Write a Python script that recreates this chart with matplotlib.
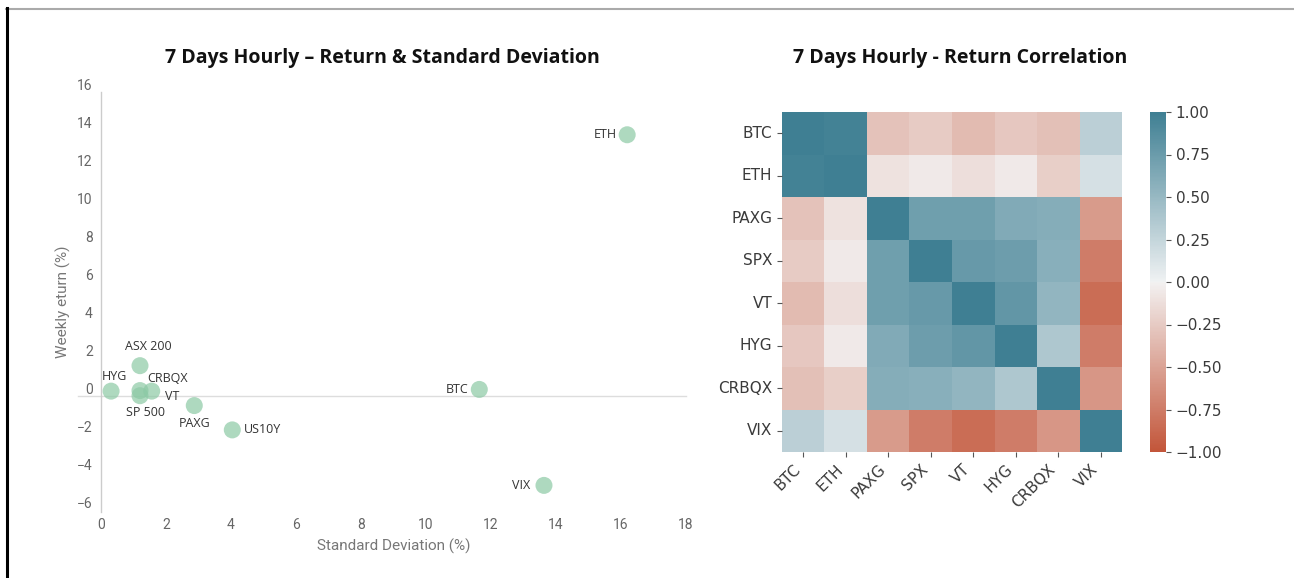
import matplotlib
matplotlib.use("Agg")
import matplotlib.pyplot as plt
import matplotlib.transforms as mtransforms
from matplotlib.lines import Line2D
import numpy as np
import seaborn as sns

# ---------------- data ----------------
assets = ["ETH", "BTC", "VIX", "US10Y", "PAXG", "SP 500", "ASX 200", "HYG", "CRBQX", "VT"]
std_dev = [16.19, 11.64, 13.63, 4.04, 2.87, 1.20, 1.20, 0.31, 1.20, 1.56]
weekly_return = [13.75, 0.35, -4.70, -1.78, -0.50, 0.02, 1.60, 0.26, 0.29, 0.26]

corr_labels = ["BTC", "ETH", "PAXG", "SPX", "VT", "HYG", "CRBQX", "VIX"]
corr_values = [
    [1.00, 0.97, -0.30, -0.25, -0.35, -0.27, -0.32, 0.30],
    [0.97, 1.00, -0.10, -0.05, -0.12, -0.05, -0.22, 0.15],
    [-0.30, -0.10, 1.00, 0.72, 0.72, 0.62, 0.60, -0.55],
    [-0.25, -0.05, 0.72, 1.00, 0.77, 0.74, 0.58, -0.75],
    [-0.35, -0.12, 0.72, 0.77, 1.00, 0.80, 0.53, -0.85],
    [-0.27, -0.05, 0.62, 0.74, 0.80, 1.00, 0.37, -0.75],
    [-0.32, -0.22, 0.60, 0.58, 0.53, 0.37, 1.00, -0.58],
    [0.30, 0.15, -0.55, -0.75, -0.85, -0.75, -0.58, 1.00],
]
cbar_ticks = [-1.0, -0.75, -0.5, -0.25, 0.0, 0.25, 0.5, 0.75, 1.0]
x_ticks = list(range(0, 20, 2))
y_ticks = list(range(-6, 18, 2))

# label placement (pixel offsets, alignment)
label_pos = {
    "ETH": (-10, 0, "right"),
    "BTC": (-11, 0, "right"),
    "VIX": (-14, 0, "right"),
    "US10Y": (12, 0, "left"),
    "PAXG": (0, -18, "center"),
    "SP 500": (5, -17, "center"),
    "ASX 200": (8, 19, "center"),
    "HYG": (3, 15, "center"),
    "CRBQX": (28, 12, "center"),
    "VT": (13, -5, "left"),
}

W, H = 1294, 578
fig = plt.figure(figsize=(W / 100, H / 100), dpi=100)
fig.patch.set_facecolor("white")

def fx(px):
    return px / W

def fy(py):
    return 1 - py / H

# ---------------- scatter ----------------
ax1 = fig.add_axes([fx(101), fy(512), fx(686) - fx(101), fy(92) - fy(512)])
ax1.set_xlim(0, 18)
ax1.set_ylim(-6.1, 16)
ax1.axhline(0, xmin=-0.04, xmax=1.0, color="#dddddd", lw=1, zorder=1, clip_on=False)
ax1.scatter(std_dev, weekly_return, s=150, color="#8cc9a5", alpha=0.7,
            edgecolors="none", zorder=3)
for name, xv, yv in zip(assets, std_dev, weekly_return):
    dx, dy, ha = label_pos[name]
    ax1.annotate(name, (xv, yv), xytext=(dx, dy), textcoords="offset pixels",
                 ha=ha, va="center", fontsize=9, family="Open Sans", color="#333333",
                 zorder=4)

for s in ["top", "right", "bottom"]:
    ax1.spines[s].set_visible(False)
ax1.spines["left"].set_color("#cccccc")
ax1.spines["left"].set_linewidth(1)
ax1.set_xticks(x_ticks)
ax1.set_yticks(y_ticks)
ax1.tick_params(axis="both", length=0, labelsize=10, labelcolor="#666666")
ax1.tick_params(axis="x", pad=4)
ax1.tick_params(axis="y", pad=6)
for lab in ax1.get_xticklabels() + ax1.get_yticklabels():
    lab.set_family("Roboto")
offset = mtransforms.ScaledTranslation(0, 8 / 100, fig.dpi_scale_trans)
for lab in ax1.get_yticklabels():
    lab.set_transform(lab.get_transform() + offset)
ax1.set_xlabel("Standard Deviation (%)", fontsize=11, family="Roboto", color="#777777",
               labelpad=5)
ax1.set_ylabel("Weekly eturn (%)", fontsize=11, family="Roboto", color="#777777",
               labelpad=4)

fig.text(fx(382), fy(58), "7 Days Hourly \u2013 Return & Standard Deviation",
         ha="center", va="center", fontsize=14, fontweight="bold", family="Open Sans",
         color="#111111")

# ---------------- heatmap ----------------
ax2 = fig.add_axes([fx(782), fy(452), fx(1122) - fx(782), fy(112) - fy(452)])
cax = fig.add_axes([fx(1150), fy(452), fx(1166) - fx(1150), fy(112) - fy(452)])
cmap = sns.diverging_palette(20, 220, as_cmap=True)
sns.heatmap(np.array(corr_values), ax=ax2, cbar_ax=cax, cmap=cmap, vmin=-1, vmax=1,
            xticklabels=corr_labels, yticklabels=corr_labels,
            cbar_kws={"ticks": cbar_ticks})
ax2.set_xticklabels(corr_labels, rotation=45, ha="right", fontsize=11, color="#3a3a3a")
ax2.set_yticklabels(corr_labels, rotation=0, fontsize=11, color="#3a3a3a")
ax2.tick_params(axis="both", color="#555555")
cax.set_yticks(cbar_ticks)
cax.set_yticklabels([f"{t:.2f}".replace("-", "\u2212") for t in cbar_ticks])
cax.tick_params(labelsize=11, labelcolor="#3a3a3a", color="#555555")

fig.text(fx(960), fy(58), "7 Days Hourly - Return Correlation",
         ha="center", va="center", fontsize=14, fontweight="bold", family="Open Sans",
         color="#111111")

# ---------------- frame lines ----------------
fig.add_artist(Line2D([fx(6), 1], [fy(8.5), fy(8.5)], color="#aaaaaa", lw=1.5))
fig.add_artist(Line2D([fx(7), fx(7)], [fy(8), 0], color="black", lw=2.2))

fig.savefig("out.png", dpi=100, facecolor="white")
